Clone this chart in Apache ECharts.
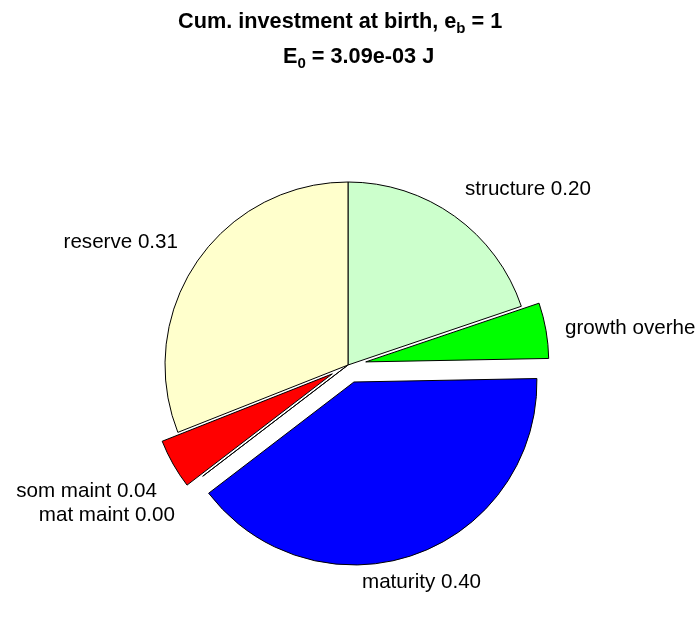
<!DOCTYPE html>
<html>
<head>
<meta charset="utf-8">
<script src="https://cdn.jsdelivr.net/npm/echarts@6/dist/echarts.min.js"></script>
<style>
html,body{margin:0;padding:0;background:#fff;}
#chart{width:696px;height:618px;}
</style>
</head>
<body>
<div id="chart"></div>
<script>
// ---- data ----
var categories = ['structure', 'growth overhead', 'maturity', 'mat maint', 'som maint', 'reserve'];
var fractions  = [0.198, 0.049, 0.399, 0.000, 0.044, 0.310];
var exploded   = [false, true, true, false, true, false];
var sliceColors = ['#CCFFCC', '#00FF00', '#0000FF', '#FF00FF', '#FF0000', '#FFFFCC'];
var titleLine1 = '{m|Cum. investment at birth, e}{s|b}{m| = 1}';
var titleLine2 = '{m|E}{s|0}{m| = 3.09e-03 J}';

// ---- label placement (layout only) ----
var labelSpots = [
  {x: 465, y: 189, align: 'left'},
  {x: 565, y: 328, align: 'left'},
  {x: 362, y: 582, align: 'left'},
  {x: 175, y: 515, align: 'right'},
  {x: 157, y: 491, align: 'right'},
  {x: 178, y: 242, align: 'right'}
];

var chart = echarts.init(document.getElementById('chart'), null, {renderer: 'canvas'});

var titleRich = {
  m: {fontFamily: 'Liberation Sans', fontWeight: 'bold', fontSize: 21.7, color: '#000', lineHeight: 28},
  s: {fontFamily: 'Liberation Sans', fontWeight: 'bold', fontSize: 15, color: '#000', lineHeight: 12, verticalAlign: 'bottom'}
};

var labelTexts = categories.map(function (c, i) {
  var s = labelSpots[i];
  return {
    type: 'text',
    x: s.x, y: s.y,
    silent: true,
    style: {
      text: c + ' ' + fractions[i].toFixed(2),
      align: s.align,
      verticalAlign: 'middle',
      fontFamily: 'Liberation Sans',
      fontSize: 20.6,
      fill: '#000'
    }
  };
});

var option = {
  animation: false,
  backgroundColor: '#ffffff',
  title: [
    {text: titleLine1, left: 178, top: 8, padding: 0, textStyle: {rich: titleRich}},
    {text: titleLine2, left: 283, top: 43, padding: 0, textStyle: {rich: titleRich}}
  ],
  graphic: labelTexts,
  series: [{
    type: 'pie',
    center: [348, 365],
    radius: 183,
    startAngle: 90,
    clockwise: true,
    selectedMode: 'multiple',
    selectedOffset: 18,
    avoidLabelOverlap: false,
    emphasis: {disabled: true},
    itemStyle: {borderColor: '#000', borderWidth: 1},
    label: {show: false},
    labelLine: {show: false},
    data: categories.map(function (c, i) {
      return {
        name: c,
        value: fractions[i],
        selected: exploded[i],
        itemStyle: {color: sliceColors[i]},
        select: {itemStyle: {color: sliceColors[i], borderColor: '#000', borderWidth: 1}}
      };
    })
  }]
};
chart.setOption(option);
</script>
</body>
</html>
